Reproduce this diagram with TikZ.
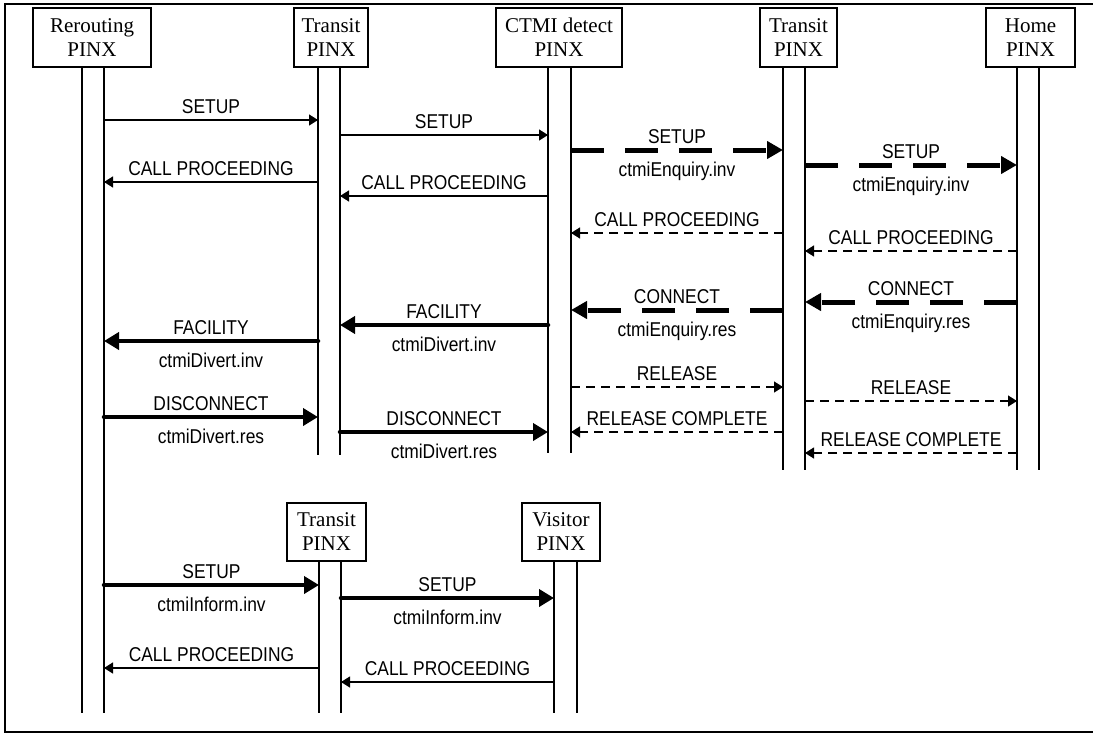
\documentclass[tikz,border=0pt]{standalone}
\usepackage{fontspec}
\usetikzlibrary{arrows.meta}
\newfontfamily\boxfont{Liberation Serif}
\newfontfamily\msgfont[FakeStretch=0.87]{Liberation Sans}

\begin{document}
\begin{tikzpicture}
                    [
                        x=1pt, y=-1pt,
                        pinx/.style = {draw, shape=rectangle, line width=1.5pt, align=center, inner sep=0pt, font=\boxfont\fontsize{21}{24}\selectfont},
                        life/.style = {line width=2pt},
                        plainmsg/.style = {line width=1.3pt, -{Triangle[length=9pt,width=11pt]}},
                        dashmsg/.style = {plainmsg, dash pattern=on 9pt off 6pt},
                        boldmsg/.style = {line width=4.5pt, line cap=round, -{Triangle[length=15pt,width=17pt]}},
                        bolddashmsg/.style = {line width=5pt, dash pattern=on 33pt off 21pt, -{Triangle[length=16pt,width=17pt]}},
                        up/.style = {anchor=base, yshift=7pt, inner sep=0pt, font=\msgfont\fontsize{20}{24}\selectfont},
                        down/.style = {anchor=base, yshift=-26pt, inner sep=0pt, font=\msgfont\fontsize{20}{24}\selectfont},
                    ]

                    \useasboundingbox (0,0) rectangle (1093,734);
                    \draw[line width=1.5pt] (1093,4) -- (5,4) -- (5,732) -- (1093,732);

                    \node[pinx, minimum width=118pt, minimum height=59pt] (rer) at (92,37.5)   {Rerouting\\PINX};
                    \node[pinx, minimum width=74pt, minimum height=59pt] (tr1) at (331,37.5)   {Transit\\PINX};
                    \node[pinx, minimum width=126pt, minimum height=59pt] (ctmi) at (559,37.5) {CTMI detect\\PINX};
                    \node[pinx, minimum width=77pt, minimum height=59pt] (tr2) at (798.5,37.5) {Transit\\PINX};
                    \node[pinx, minimum width=89pt, minimum height=59pt] (home) at (1030.5,37.5) {Home\\PINX};
                    \node[pinx, minimum width=79pt, minimum height=58pt] (tr3) at (326.5,532)  {Transit\\PINX};
                    \node[pinx, minimum width=78pt, minimum height=58pt] (vis) at (561,532)    {Visitor\\PINX};

                    \coordinate (Ra) at (82,67);
                    \coordinate (Rb) at (104,67);
                    \coordinate (Ta) at (318,67);
                    \coordinate (Tb) at (340,67);
                    \coordinate (Ca) at (548,67);
                    \coordinate (Cb) at (571,67);
                    \coordinate (Ua) at (783,67);
                    \coordinate (Ub) at (805,67);
                    \coordinate (Ha) at (1017,67);
                    \coordinate (Hb) at (1039,67);
                    \coordinate (Xa) at (319,561);
                    \coordinate (Xb) at (341,561);
                    \coordinate (Va) at (554,561);
                    \coordinate (Vb) at (577,561);

                    \draw[life] (Ra) -- (Ra |- 0,713);
                    \draw[life] (Rb) -- (Rb |- 0,713);
                    \draw[life] (Ta) -- (Ta |- 0,455);
                    \draw[life] (Tb) -- (Tb |- 0,455);
                    \draw[life] (Ca) -- (Ca |- 0,453);
                    \draw[life] (Cb) -- (Cb |- 0,453);
                    \draw[life] (Ua) -- (Ua |- 0,470);
                    \draw[life] (Ub) -- (Ub |- 0,470);
                    \draw[life] (Ha) -- (Ha |- 0,470);
                    \draw[life] (Hb) -- (Hb |- 0,470);
                    \draw[life] (Xa) -- (Xa |- 0,713);
                    \draw[life] (Xb) -- (Xb |- 0,713);
                    \draw[life] (Va) -- (Va |- 0,713);
                    \draw[life] (Vb) -- (Vb |- 0,713);

                    \draw[plainmsg] (Rb |- 0,120) -- node[up] {SETUP} (Ta |- 0,120);
                    \draw[plainmsg] (Ta |- 0,182) -- node[up] {CALL PROCEEDING} (Rb |- 0,182);
                    \draw[plainmsg] (Tb |- 0,135) -- node[up] {SETUP} (Ca |- 0,135);
                    \draw[plainmsg] (Ca |- 0,196) -- node[up] {CALL PROCEEDING} (Tb |- 0,196);

                    \draw[bolddashmsg] (Cb |- 0,150) -- node[up] {SETUP} node[down] {ctmiEnquiry.inv} (Ua |- 0,150);
                    \draw[bolddashmsg] (Ub |- 0,165) -- node[up] {SETUP} node[down] {ctmiEnquiry.inv} (Ha |- 0,165);
                    \draw[dashmsg] (Ua |- 0,233) -- node[up] {CALL PROCEEDING} (Cb |- 0,233);
                    \draw[dashmsg] (Ha |- 0,251) -- node[up] {CALL PROCEEDING} (Ub |- 0,251);
                    \draw[bolddashmsg] (Ha |- 0,302) -- node[up] {CONNECT} node[down] {ctmiEnquiry.res} (Ub |- 0,302);
                    \draw[bolddashmsg] (Ua |- 0,310) -- node[up] {CONNECT} node[down] {ctmiEnquiry.res} (Cb |- 0,310);

                    \draw[boldmsg] (Ca |- 0,325) -- node[up] {FACILITY} node[down] {ctmiDivert.inv} (Tb |- 0,325);
                    \draw[boldmsg] (Ta |- 0,341) -- node[up] {FACILITY} node[down] {ctmiDivert.inv} (Rb |- 0,341);

                    \draw[dashmsg] (Cb |- 0,387) -- node[up] {RELEASE} (Ua |- 0,387);
                    \draw[dashmsg] (Ub |- 0,401) -- node[up] {RELEASE} (Ha |- 0,401);

                    \draw[boldmsg] (Rb |- 0,417) -- node[up] {DISCONNECT} node[down] {ctmiDivert.res} (Ta |- 0,417);
                    \draw[boldmsg] (Tb |- 0,432) -- node[up] {DISCONNECT} node[down] {ctmiDivert.res} (Ca |- 0,432);
                    \draw[dashmsg] (Ua |- 0,432) -- node[up] {RELEASE COMPLETE} (Cb |- 0,432);
                    \draw[dashmsg] (Ha |- 0,453) -- node[up] {RELEASE COMPLETE} (Ub |- 0,453);

                    \draw[boldmsg] (Rb |- 0,585) -- node[up] {SETUP} node[down] {ctmiInform.inv} (Xa |- 0,585);
                    \draw[boldmsg] (Xb |- 0,598) -- node[up] {SETUP} node[down] {ctmiInform.inv} (Va |- 0,598);
                    \draw[plainmsg] (Xa |- 0,668) -- node[up] {CALL PROCEEDING} (Rb |- 0,668);
                    \draw[plainmsg] (Va |- 0,682) -- node[up] {CALL PROCEEDING} (Xb |- 0,682);
                \end{tikzpicture}
\end{document}
